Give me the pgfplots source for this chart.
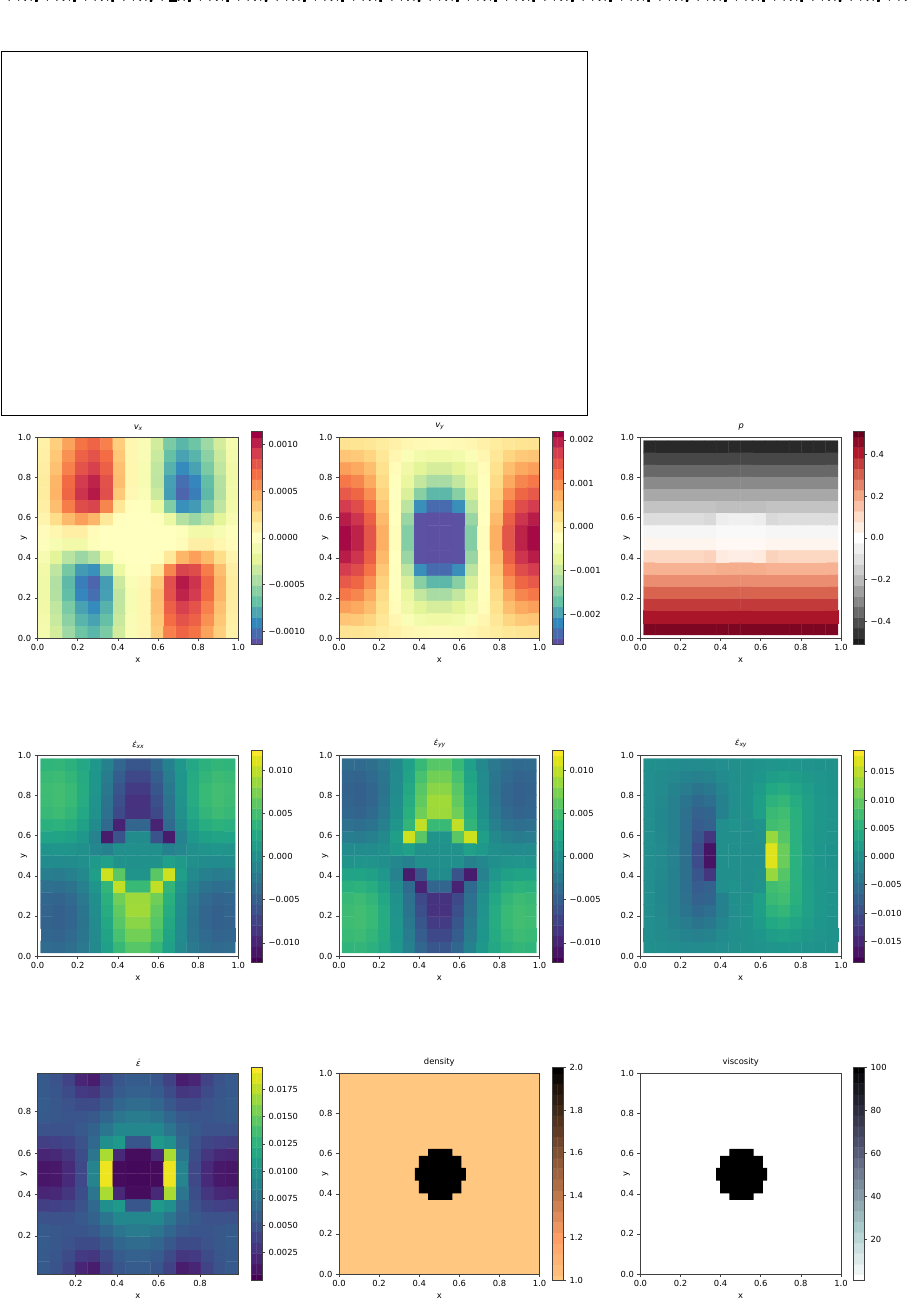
\documentclass[border=0pt]{standalone}
\usepackage{fontspec}
\setmainfont{DejaVu Sans}
\newfontfamily\obl[FakeSlant=0.2]{DejaVu Sans}
\usepackage{pgfplots}
\usepackage{pgfplotstable}
\pgfplotsset{compat=1.18}

% colormaps (matplotlib names, reversed where the chart uses _r)
\pgfplotsset{
  colormap={spectralr}{rgb255=(94,79,162) rgb255=(50,136,189) rgb255=(102,194,165) rgb255=(171,221,164) rgb255=(230,245,152) rgb255=(255,255,191) rgb255=(254,224,139) rgb255=(253,174,97) rgb255=(244,109,67) rgb255=(213,62,79) rgb255=(158,1,66)},
  colormap={rdgyr}{rgb255=(26,26,26) rgb255=(77,77,77) rgb255=(135,135,135) rgb255=(186,186,186) rgb255=(224,224,224) rgb255=(255,255,255) rgb255=(253,219,199) rgb255=(244,165,130) rgb255=(214,96,77) rgb255=(178,24,43) rgb255=(103,0,31)},
  colormap={copperr}{rgb255=(255,199,127) rgb255=(255,159,102) rgb255=(191,119,76) rgb255=(128,80,51) rgb255=(64,40,25) rgb255=(0,0,0)},
  colormap={boner}{rgb255=(255,255,255) rgb255=(211,228,228) rgb255=(167,201,201) rgb255=(139,162,172) rgb255=(111,123,144) rgb255=(83,84,115) rgb255=(55,55,77) rgb255=(28,28,39) rgb255=(0,0,0)},
}
\definecolor{spinecol}{gray}{0.25}

% one quadrant of each field, rows from the bottom edge to the centre, 8 per row
% vx, vy in 1e-5; p in 0.01; strain rates in 1e-4
\pgfplotstableread[row sep=\\,header=false]{
-10\\-30\\-50\\-66\\-73\\-62\\-31\\-6\\
-11\\-34\\-56\\-74\\-81\\-69\\-34\\-6\\
-13\\-37\\-62\\-81\\-90\\-75\\-37\\-7\\
-14\\-42\\-70\\-92\\-101\\-82\\-38\\-7\\
-14\\-43\\-72\\-95\\-105\\-83\\-33\\-5\\
-12\\-38\\-63\\-84\\-88\\-60\\-17\\-1\\
-8\\-24\\-40\\-51\\-42\\-16\\-1\\0\\
-2\\-7\\-12\\-12\\-3\\0\\0\\0\\
}\vxdata
\pgfplotstableread[row sep=\\,header=false]{
17\\16\\12\\5\\-3\\-12\\-16\\-17\\
50\\46\\34\\13\\-12\\-36\\-50\\-56\\
83\\76\\56\\21\\-19\\-52\\-75\\-87\\
113\\103\\76\\29\\-23\\-66\\-103\\-124\\
142\\129\\96\\38\\-26\\-84\\-147\\-180\\
171\\155\\117\\48\\-27\\-109\\-214\\-245\\
197\\178\\136\\61\\-25\\-135\\-266\\-268\\
212\\192\\148\\72\\-22\\-150\\-267\\-268\\
}\vydata
\pgfplotstableread[row sep=\\,header=false]{
48\\48\\48\\48\\48\\48\\48\\48\\
42\\42\\42\\42\\42\\42\\42\\42\\
36\\36\\36\\36\\36\\36\\36\\36\\
30\\30\\30\\30\\30\\30\\30\\30\\
24\\24\\24\\24\\24\\24\\24\\24\\
18\\18\\18\\18\\18\\18\\19\\19\\
11\\11\\11\\11\\11\\12\\6\\5\\
3\\3\\3\\3\\3\\3\\2\\2\\
}\pdata
\pgfplotstableread[row sep=\\,header=false]{
-37\\-39\\-34\\-24\\-7\\16\\42\\58\\
-43\\-45\\-39\\-27\\-6\\21\\51\\70\\
-46\\-48\\-43\\-29\\-5\\25\\58\\80\\
-45\\-48\\-43\\-28\\-3\\29\\63\\88\\
-42\\-45\\-39\\-24\\-1\\32\\69\\87\\
-32\\-35\\-30\\-17\\5\\39\\100\\43\\
-19\\-21\\-17\\-7\\14\\105\\60\\4\\
-4\\-5\\-4\\0\\9\\16\\1\\1\\
}\exxdata
\pgfplotstableread[row sep=\\,header=false]{
-1\\-3\\-5\\-8\\-9\\-7\\-4\\-1\\
-3\\-7\\-13\\-20\\-25\\-20\\-10\\-2\\
-3\\-10\\-20\\-33\\-44\\-37\\-17\\-3\\
-4\\-11\\-25\\-44\\-61\\-53\\-23\\-3\\
-4\\-12\\-26\\-49\\-72\\-66\\-24\\-2\\
-4\\-12\\-26\\-51\\-79\\-73\\-4\\4\\
-4\\-11\\-24\\-50\\-88\\-130\\-2\\0\\
-3\\-10\\-22\\-50\\-102\\-170\\0\\0\\
}\exydata
\pgfplotstableread[row sep=\\,header=false]{
55\\50\\39\\20\\15\\38\\52\\56\\
55\\52\\44\\33\\30\\44\\56\\60\\
56\\53\\49\\44\\44\\53\\64\\68\\
55\\53\\51\\51\\54\\64\\76\\80\\
49\\49\\49\\54\\61\\76\\91\\90\\
36\\37\\41\\49\\65\\97\\105\\52\\
20\\22\\30\\46\\76\\170\\22\\6\\
11\\13\\23\\42\\88\\190\\5\\4\\
}\edata
% colour levels of a colour bar strip, two cells per level, bottom to top
\pgfplotstableread[row sep=\\,header=false]{
0\\0\\1\\1\\2\\2\\3\\3\\4\\4\\5\\5\\6\\6\\7\\7\\8\\8\\9\\9\\10\\10\\
11\\11\\12\\12\\13\\13\\14\\14\\15\\15\\16\\16\\17\\17\\18\\18\\19\\19\\20\\20\\
}\stripdata

% column and row of the running cell in a quadrant
\newcommand{\colidx}{(\coordindex-8*int((\coordindex+0.5)/8))}
\newcommand{\rowidx}{int((\coordindex+0.5)/8)}
% four mirrored copies of a quadrant: #1 table, #2 first cell centre, #3 step, #4-#7 signs BL BR TL TR
\newcommand{\fourfold}[7]{
  \addplot[matrix plot*,mesh/cols=8,point meta={#4*\thisrowno{0}}] table[x index=0,y index=0,x expr={#2+#3*\colidx},y expr={#2+#3*\rowidx}] {#1};
  \addplot[matrix plot*,mesh/cols=8,point meta={#5*\thisrowno{0}}] table[x index=0,y index=0,x expr={1-#2-#3*\colidx},y expr={#2+#3*\rowidx}] {#1};
  \addplot[matrix plot*,mesh/cols=8,point meta={#6*\thisrowno{0}}] table[x index=0,y index=0,x expr={#2+#3*\colidx},y expr={1-#2-#3*\rowidx}] {#1};
  \addplot[matrix plot*,mesh/cols=8,point meta={#7*\thisrowno{0}}] table[x index=0,y index=0,x expr={1-#2-#3*\colidx},y expr={1-#2-#3*\rowidx}] {#1};
}

\pgfplotsset{
  framed/.style={
    scale only axis,anchor=south west,axis on top,
    axis line style={spinecol,line width=0.7bp},
    tick style={spinecol,line width=0.6bp},
    major tick length=3bp,tick align=outside,
    tick label style={font=\fontsize{8.4}{10}\selectfont},
  },
  panel/.style={
    framed,width=200.6bp,height=200.4bp,
    xmin=0,xmax=1,ymin=0,ymax=1,xtick pos=bottom,ytick pos=left,
    xtick={0,0.2,0.4,0.6,0.8,1},ytick={0,0.2,0.4,0.6,0.8,1},
    xticklabels={0.0,0.2,0.4,0.6,0.8,1.0},yticklabels={0.0,0.2,0.4,0.6,0.8,1.0},
    title style={font=\fontsize{8.4}{10}\selectfont,yshift=-2bp},
    xlabel=x,ylabel=y,
    xlabel style={font=\fontsize{8.4}{10}\selectfont,at={(axis description cs:0.5,0)},anchor=north,yshift=-16bp},
    ylabel style={font=\fontsize{8.4}{10}\selectfont,at={(axis description cs:0,0.5)},anchor=south,yshift=7bp},
  },
  cbar/.style={
    framed,width=10.8bp,height=212.4bp,
    xmin=0,xmax=1,xtick=\empty,ytick pos=right,yticklabel pos=right,
    point meta min=0,point meta max=20,
  },
}
% colour bar: #1 left, #2 bottom, #3 colormap key, #4 lowest, #5 highest, #6 ticks, #7 labels
\newcommand{\cbaxis}[7]{
  \begin{axis}[cbar,at={(#1bp,#2bp)},#3,ymin=#4,ymax=#5,ytick={#6},yticklabels={#7}]
  \addplot[matrix plot*,mesh/cols=2,point meta=\thisrowno{0}] table[x index=0,y index=0,x expr={\coordindex-2*int((\coordindex+0.5)/2)},y expr={#4+(#5-(#4))*\thisrowno{0}/20}] {\stripdata};
  \end{axis}
}

\begin{document}
\begin{tikzpicture}
\path[use as bounding box] (0bp,0bp) rectangle (909bp,-1308bp);
\fill[black] (169bp,0bp) rectangle (177bp,-1.8bp);

% empty frame at the top
\draw[black,line width=1bp] (1bp,-51bp) rectangle (587bp,-415bp);

% first row
\begin{axis}[panel,at={(37.6bp,-638bp)},title={{\obl v}\textsubscript{\obl x}},
  colormap name=spectralr,point meta min=-114,point meta max=114]
\fourfold{\vxdata}{0.03125}{0.0625}{1}{-1}{-1}{1}
\end{axis}
\cbaxis{251.3}{-644}{colormap name=spectralr}{-114}{114}{-100,-50,0,50,100}{−0.0010,−0.0005,0.0000,0.0005,0.0010}
\begin{axis}[panel,at={(339bp,-638bp)},title={{\obl v}\textsubscript{\obl y}},
  colormap name=spectralr,point meta min=-269,point meta max=219]
\fourfold{\vydata}{0.03125}{0.0625}{1}{1}{1}{1}
\end{axis}
\cbaxis{552.3}{-644}{colormap name=spectralr}{-269}{219}{-200,-100,0,100,200}{−0.002,−0.001,0.000,0.001,0.002}
\begin{axis}[panel,at={(640.4bp,-638bp)},title={{\obl p}},
  colormap name=rdgyr,point meta min=-51,point meta max=51]
\fourfold{\pdata}{0.0459}{0.0605}{1}{1}{-1}{-1}
\end{axis}
\cbaxis{853.3}{-644}{colormap name=rdgyr}{-51}{51}{-40,-20,0,20,40}{−0.4,−0.2,0.0,0.2,0.4}

% second row
\begin{axis}[panel,at={(37.6bp,-956bp)},title={{\obl ε̇}\textsubscript{\obl xx}},
  colormap/viridis,point meta min=-123,point meta max=123]
\fourfold{\exxdata}{0.0459}{0.0605}{1}{1}{-1}{-1}
\end{axis}
\cbaxis{251.3}{-962.7}{colormap/viridis}{-123}{123}{-100,-50,0,50,100}{−0.010,−0.005,0.000,0.005,0.010}
\begin{axis}[panel,at={(339bp,-956bp)},title={{\obl ε̇}\textsubscript{\obl yy}},
  colormap/viridis,point meta min=-123,point meta max=123]
\fourfold{\exxdata}{0.0459}{0.0605}{-1}{-1}{1}{1}
\end{axis}
\cbaxis{552.3}{-962.7}{colormap/viridis}{-123}{123}{-100,-50,0,50,100}{−0.010,−0.005,0.000,0.005,0.010}
\begin{axis}[panel,at={(640.4bp,-956bp)},title={{\obl ε̇}\textsubscript{\obl xy}},
  colormap/viridis,point meta min=-188,point meta max=188]
\fourfold{\exydata}{0.0459}{0.0605}{1}{-1}{1}{-1}
\end{axis}
\cbaxis{853.3}{-962.7}{colormap/viridis}{-188}{188}{-150,-100,-50,0,50,100,150}{−0.015,−0.010,−0.005,0.000,0.005,0.010,0.015}

% third row
\begin{axis}[panel,at={(37.6bp,-1274bp)},title={{\obl ε̇}},
  xmin=0.0156,xmax=0.9844,ymin=0.0156,ymax=0.9844,
  xtick={0.2,0.4,0.6,0.8},ytick={0.2,0.4,0.6,0.8},
  xticklabels={0.2,0.4,0.6,0.8},yticklabels={0.2,0.4,0.6,0.8},
  colormap/viridis,point meta min=0,point meta max=195]
\fourfold{\edata}{0.0459}{0.0605}{1}{1}{1}{1}
\end{axis}
\cbaxis{251.3}{-1280}{colormap/viridis}{0}{195}{25,50,75,100,125,150,175}{0.0025,0.0050,0.0075,0.0100,0.0125,0.0150,0.0175}
\begin{axis}[panel,at={(339bp,-1274bp)},title={density}]
\addplot[fill={rgb,255:red,255;green,199;blue,127},draw=none] coordinates {(0,0) (1,0) (1,1) (0,1)} --cycle;
\addplot[fill=black,draw=none] coordinates {(0.444,0.37) (0.565,0.37) (0.565,0.403) (0.61,0.403) (0.61,0.466) (0.632,0.466) (0.632,0.53) (0.61,0.53) (0.61,0.59) (0.565,0.59) (0.565,0.624) (0.444,0.624) (0.444,0.59) (0.398,0.59) (0.398,0.53) (0.378,0.53) (0.378,0.466) (0.398,0.466) (0.398,0.403) (0.444,0.403)} --cycle;
\end{axis}
\cbaxis{552.3}{-1280}{colormap name=copperr}{1}{2}{1,1.2,1.4,1.6,1.8,2}{1.0,1.2,1.4,1.6,1.8,2.0}
\begin{axis}[panel,at={(640.4bp,-1274bp)},title={viscosity}]
\addplot[fill=white,draw=none] coordinates {(0,0) (1,0) (1,1) (0,1)} --cycle;
\addplot[fill=black,draw=none] coordinates {(0.444,0.37) (0.565,0.37) (0.565,0.403) (0.61,0.403) (0.61,0.466) (0.632,0.466) (0.632,0.53) (0.61,0.53) (0.61,0.59) (0.565,0.59) (0.565,0.624) (0.444,0.624) (0.444,0.59) (0.398,0.59) (0.398,0.53) (0.378,0.53) (0.378,0.466) (0.398,0.466) (0.398,0.403) (0.444,0.403)} --cycle;
\end{axis}
\cbaxis{853.3}{-1280}{colormap name=boner}{1}{100}{20,40,60,80,100}{20,40,60,80,100}
\end{tikzpicture}
\end{document}
